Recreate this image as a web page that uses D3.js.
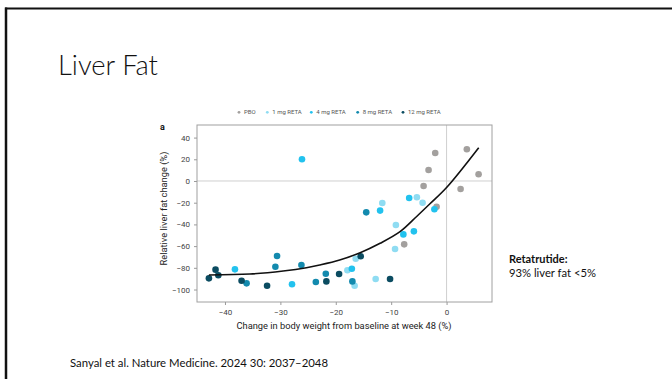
<!DOCTYPE html>
<html><head><meta charset="utf-8">
<script src="https://cdn.jsdelivr.net/npm/d3@7"></script>
<style>
html,body{margin:0;padding:0;background:#fff;}
svg{display:block;}
</style></head>
<body>
<svg id="c" width="672" height="379"></svg>
<script>
// ---- data ----
const seriesNames = ["PBO", "1 mg RETA", "4 mg RETA", "8 mg RETA", "12 mg RETA"];
const seriesColors = ["#a3a09e", "#8fdcf2", "#22c2ee", "#138aae", "#0b4c61"];
const pbo = [[-2.05,25.8],[3.66,29.2],[-3.25,10.1],[5.78,6.2],[-4.15,-4.6],[2.53,-7.4],[-1.8,-23.7],[-7.65,-58.4]];
const reta1 = [[-5.36,-15.0],[-4.33,-20.0],[-11.6,-20.3],[-9.15,-40.6],[-9.3,-62.7],[-16.4,-71.6],[-17.9,-82.3],[-16.6,-96.5],[-12.8,-90.3]];
const reta4 = [[-26.1,20.0],[-6.75,-15.7],[-12.0,-27.3],[-2.2,-26.1],[-7.8,-49.2],[-5.9,-46.4],[-17.1,-80.8],[-38.2,-81.4],[-27.9,-95.2]];
const reta8 = [[-14.5,-28.9],[-30.6,-69.1],[-30.9,-79.0],[-26.2,-77.4],[-36.1,-94.3],[-23.6,-93.1],[-21.8,-85.4],[-17.0,-92.5]];
const reta12 = [[-42.9,-89.7],[-41.7,-81.7],[-41.2,-86.9],[-37.0,-91.9],[-32.4,-96.5],[-21.7,-92.5],[-19.4,-85.7],[-15.5,-69.4],[-10.2,-90.3]];
const fitCurve = [[-42.9,-86.6],[-35.5,-85.7],[-29.5,-82.9],[-25.3,-79.9],[-22.9,-77.4],[-19.3,-72.8],[-15.6,-66.1],[-12.0,-57.4],[-8.4,-46.7],[-5.4,-32.7],[-3.0,-21.0],[0,-6.0],[5.8,30.7]];
const xTicks = [-40,-30,-20,-10,0];
const yTicks = [40,20,0,-20,-40,-60,-80,-100];
const series = [pbo, reta1, reta4, reta8, reta12];

// ---- drawing ----
const svg = d3.select("#c");
const F = "Roboto, 'Liberation Sans', sans-serif";
const SF = "Lato, 'Open Sans', sans-serif";

// slide frame (top + left)
svg.append("line").attr("x1",5).attr("x2",672).attr("y1",8.5).attr("y2",8.5).attr("stroke","#111").attr("stroke-width",2);
svg.append("line").attr("x1",6).attr("x2",6).attr("y1",7.5).attr("y2",379).attr("stroke","#111").attr("stroke-width",2.5);

svg.append("text").attr("x",58).attr("y",75).attr("font-family",SF).attr("font-size",27)
  .attr("font-weight",300).attr("fill","#111").attr("textLength",100).attr("lengthAdjust","spacingAndGlyphs")
  .text("Liver Fat");

svg.append("text").attr("x",70).attr("y",366.5).attr("font-family",SF).attr("font-size",11)
  .attr("fill","#111").attr("textLength",258).attr("lengthAdjust","spacingAndGlyphs")
  .text("Sanyal et al. Nature Medicine. 2024 30: 2037–2048");

svg.append("text").attr("x",509).attr("y",263).attr("font-family",SF).attr("font-size",11)
  .attr("font-weight","bold").attr("fill","#111").text("Retatrutide:");
svg.append("text").attr("x",509).attr("y",277).attr("font-family",SF).attr("font-size",11)
  .attr("fill","#111").attr("textLength",87).attr("lengthAdjust","spacingAndGlyphs").text("93% liver fat <5%");

const L=197, R=492, T=125, B=302;
const x = d3.scaleLinear().domain([-45.05, 8.2]).range([L, R]);
const y = d3.scaleLinear().domain([-111.5, 51.6]).range([B, T]);

// gridlines at 0
svg.append("line").attr("x1",L).attr("x2",R).attr("y1",y(0)).attr("y2",y(0)).attr("stroke","#cfcfcf").attr("stroke-width",1);
svg.append("line").attr("x1",x(0)).attr("x2",x(0)).attr("y1",T).attr("y2",B).attr("stroke","#cfcfcf").attr("stroke-width",1);

// frame
svg.append("rect").attr("x",L).attr("y",T).attr("width",R-L).attr("height",B-T)
  .attr("fill","none").attr("stroke","#a0a0a0").attr("stroke-width",1);

const xa = svg.append("g").attr("transform",`translate(0,${B})`)
  .call(d3.axisBottom(x).tickValues(xTicks).tickSize(3).tickPadding(4));
const ya = svg.append("g").attr("transform",`translate(${L},0)`)
  .call(d3.axisLeft(y).tickValues(yTicks).tickSize(3).tickPadding(4));
[xa,ya].forEach(g=>{
  g.select(".domain").remove();
  g.selectAll(".tick line").attr("stroke","#9a9a9a");
  g.selectAll("text").attr("font-family",F).attr("font-size",8).attr("fill","#444");
});

svg.append("text").attr("x",344).attr("y",329).attr("text-anchor","middle")
  .attr("font-family",F).attr("font-size",9.3).attr("fill","#222")
  .text("Change in body weight from baseline at week 48 (%)");
svg.append("text").attr("transform",`translate(167,208.5) rotate(-90)`).attr("text-anchor","middle")
  .attr("font-family",F).attr("font-size",9.3).attr("fill","#222")
  .text("Relative liver fat change (%)");

svg.append("text").attr("x",160).attr("y",130).attr("font-family",F).attr("font-size",9)
  .attr("font-weight","bold").attr("fill","#111").text("a");

// legend
const legX = [239, 267.3, 311.3, 357.7, 403];
const leg = svg.append("g");
seriesNames.forEach((n,i)=>{
  leg.append("circle").attr("cx",legX[i]).attr("cy",112.3).attr("r",1.4).attr("fill",seriesColors[i]);
  leg.append("text").attr("x",legX[i]+5).attr("y",114.4).attr("font-family",F).attr("font-size",6)
    .attr("fill","#555").text(n);
});

// points
series.forEach((s,i)=>{
  svg.append("g").selectAll("circle").data(s).join("circle")
    .attr("cx",d=>x(d[0])).attr("cy",d=>y(d[1])).attr("r",3.3).attr("fill",seriesColors[i]);
});

// fit line
svg.append("path").datum(fitCurve)
  .attr("d", d3.line().x(d=>x(d[0])).y(d=>y(d[1])).curve(d3.curveCatmullRom.alpha(0.5)))
  .attr("fill","none").attr("stroke","#111").attr("stroke-width",1.6);
</script>
</body></html>
